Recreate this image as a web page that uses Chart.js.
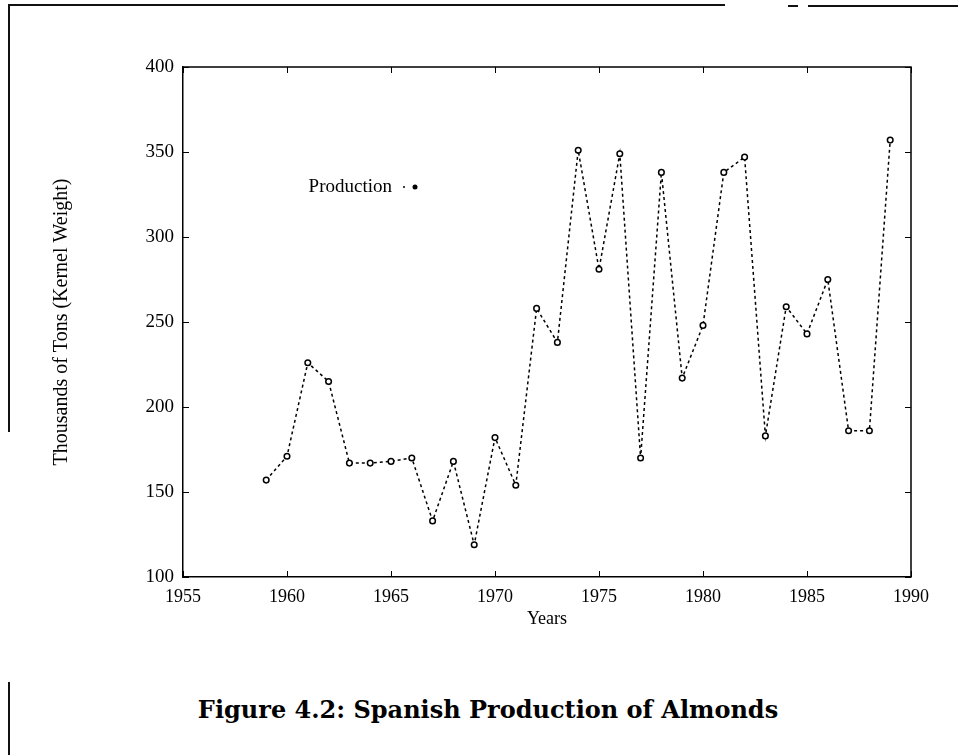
<!DOCTYPE html>
<html>
<head>
<meta charset="utf-8">
<script src="https://cdn.jsdelivr.net/npm/chart.js@4.4.1/dist/chart.umd.min.js"></script>
<style>
body { margin: 0; background: #fff; width: 958px; height: 755px; overflow: hidden; position: relative; }
#chartBox { position: absolute; left: 0; top: 0; width: 958px; height: 640px; }
#caption { position: absolute; left: 0; width: 976px; top: 695px; text-align: center; font-family: "DejaVu Serif", serif; font-weight: bold; font-size: 24px; color: #000; }
.scan { position: absolute; background: #111; }
</style>
</head>
<body>
<div class="scan" style="left:9px;top:4px;width:716px;height:2px;"></div>
<div class="scan" style="left:788px;top:5px;width:10px;height:2px;"></div>
<div class="scan" style="left:808px;top:5px;width:150px;height:2px;"></div>
<div class="scan" style="left:8px;top:4px;width:2px;height:428px;"></div>
<div class="scan" style="left:8px;top:682px;width:2px;height:73px;"></div>
<div id="chartBox"><canvas id="almonds" width="958" height="640"></canvas></div>
<div id="caption">Figure 4.2: Spanish Production of Almonds</div>
<script>
var years = [1959, 1960, 1961, 1962, 1963, 1964, 1965, 1966, 1967, 1968,
    1969, 1970, 1971, 1972, 1973, 1974, 1975, 1976, 1977, 1978,
    1979, 1980, 1981, 1982, 1983, 1984, 1985, 1986, 1987, 1988, 1989];
var production = [157, 171, 226, 215, 167, 167, 168, 170, 133, 168,
    119, 182, 154, 258, 238, 351, 281, 349, 170, 338,
    217, 248, 338, 347, 183, 259, 243, 275, 186, 186, 357];
var xTicks = [1955, 1960, 1965, 1970, 1975, 1980, 1985, 1990];
var yTicks = [100, 150, 200, 250, 300, 350, 400];

var serif = "'Liberation Serif', 'Times New Roman', serif";

// frame on top/right plus inward tick marks on all four sides
var framePlugin = {
    id: 'frame',
    afterDatasetsDraw: function (chart) {
        var ctx = chart.ctx, a = chart.chartArea;
        var xs = chart.scales.x, ys = chart.scales.y;
        ctx.save();
        ctx.strokeStyle = '#000';
        ctx.lineWidth = 1.5;
        ctx.beginPath();
        ctx.moveTo(a.left, a.top);
        ctx.lineTo(a.right, a.top);
        ctx.lineTo(a.right, a.bottom);
        ctx.stroke();
        ctx.lineWidth = 1;
        ctx.beginPath();
        xTicks.forEach(function (v) {
            var px = Math.round(xs.getPixelForValue(v)) + 0.5;
            ctx.moveTo(px, a.bottom); ctx.lineTo(px, a.bottom - 6);
            ctx.moveTo(px, a.top); ctx.lineTo(px, a.top + 6);
        });
        yTicks.forEach(function (v) {
            var py = Math.round(ys.getPixelForValue(v)) + 0.5;
            ctx.moveTo(a.left, py); ctx.lineTo(a.left + 6, py);
            ctx.moveTo(a.right, py); ctx.lineTo(a.right - 6, py);
        });
        ctx.stroke();
        ctx.restore();
    }
};

// key drawn inside the plot, like the original
var keyPlugin = {
    id: 'key',
    afterDatasetsDraw: function (chart) {
        var ctx = chart.ctx, a = chart.chartArea;
        var label = chart.data.datasets[0].label;
        var tx = a.left + 209, ty = a.top + 120;
        ctx.save();
        ctx.fillStyle = '#000';
        ctx.font = "19px " + serif;
        ctx.textAlign = 'right';
        ctx.textBaseline = 'middle';
        ctx.fillText(label, tx, ty);
        ctx.beginPath();
        ctx.arc(tx + 12, ty, 1, 0, Math.PI * 2);
        ctx.fill();
        ctx.beginPath();
        ctx.arc(tx + 23, ty, 2.5, 0, Math.PI * 2);
        ctx.fill();
        ctx.restore();
    }
};

var points = years.map(function (y, i) { return { x: y, y: production[i] }; });

new Chart(document.getElementById('almonds'), {
    type: 'line',
    plugins: [framePlugin, keyPlugin],
    data: {
        datasets: [{
            label: 'Production',
            data: points,
            borderColor: '#000',
            borderWidth: 1.5,
            borderDash: [3, 3],
            pointRadius: 2.8,
            pointBorderWidth: 1.5,
            pointBackgroundColor: '#fff',
            pointBorderColor: '#000',
            tension: 0,
            fill: false
        }]
    },
    options: {
        responsive: false,
        animation: false,
        layout: { padding: { top: 67, right: 47, left: 0, bottom: 0 } },
        plugins: {
            legend: { display: false },
            tooltip: { enabled: false }
        },
        scales: {
            x: {
                type: 'linear',
                min: 1955,
                max: 1990,
                afterFit: function (s) { s.height = 63; },
                ticks: {
                    stepSize: 5,
                    padding: 9,
                    color: '#000',
                    font: { family: serif, size: 18 },
                    callback: function (v) { return String(v); }
                },
                grid: { display: false, drawTicks: false },
                border: { display: true, color: '#000', width: 1.5 },
                title: {
                    display: true,
                    text: 'Years',
                    color: '#000',
                    font: { family: serif, size: 18 },
                    padding: { top: 0, bottom: 10 }
                }
            },
            y: {
                min: 100,
                max: 400,
                afterFit: function (s) { s.width = 183; },
                ticks: {
                    stepSize: 50,
                    padding: 9,
                    color: '#000',
                    font: { family: serif, size: 19 }
                },
                grid: { display: false, drawTicks: false },
                border: { display: true, color: '#000', width: 1.5 },
                title: {
                    display: true,
                    text: 'Thousands of Tons (Kernel Weight)',
                    color: '#000',
                    font: { family: serif, size: 20 },
                    padding: { top: 50, bottom: 0 }
                }
            }
        }
    }
});
</script>
</body>
</html>
